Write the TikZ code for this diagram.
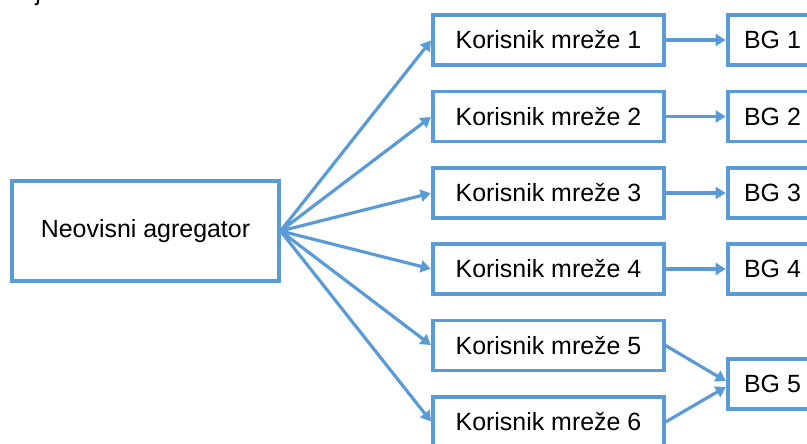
\documentclass[tikz,border=0pt]{standalone}
\usepackage{fontspec}
\setmainfont{Liberation Sans}
\usetikzlibrary{arrows.meta}
\definecolor{lineblue}{HTML}{5B9BD5}
\begin{document}
\begin{tikzpicture}[x=0.75pt,y=-0.75pt,
  box/.style={draw=lineblue, line width=2.3pt, fill=white, inner sep=0pt,
    font=\fontsize{18.7}{22}\selectfont, text=black},
  kbox/.style={box, minimum width=173.25pt, minimum height=37.5pt},
  bgbox/.style={box, minimum width=66.75pt, minimum height=37.5pt},
  conn/.style={draw=lineblue, line width=2.4pt, -{Triangle[length=7.5pt,width=9pt]}, shorten >=0.6pt}]
\useasboundingbox (0,0) rectangle (807,443);
\clip (0,0) rectangle (807,443);
\node[anchor=base west, inner sep=0pt, font=\fontsize{18.7}{22}\selectfont] (jfrag) at (35,0) {j};
\node[box, minimum width=200.25pt, minimum height=75pt] (agg) at (145.5,231) {Neovisni agregator};
\node[kbox] (k1) at (548.5,40) {Korisnik mreže 1};
\node[kbox] (k2) at (548.5,116.5) {Korisnik mreže 2};
\node[kbox] (k3) at (548.5,193) {Korisnik mreže 3};
\node[kbox] (k4) at (548.5,269) {Korisnik mreže 4};
\node[kbox] (k5) at (548.5,345.5) {Korisnik mreže 5};
\node[kbox] (k6) at (548.5,422) {Korisnik mreže 6};
\node[bgbox] (bg1) at (772.5,40) {BG 1};
\node[bgbox] (bg2) at (772.5,116.5) {BG 2};
\node[bgbox] (bg3) at (772.5,193) {BG 3};
\node[bgbox] (bg4) at (772.5,269) {BG 4};
\node[bgbox] (bg5) at (772.5,384) {BG 5};
\foreach \k in {k1,k2,k3,k4,k5,k6}
  \draw[conn] (agg.east) -- (\k.west);
\draw[conn] (k1) -- (bg1);
\draw[conn] (k2) -- (bg2);
\draw[conn] (k3) -- (bg3);
\draw[conn] (k4) -- (bg4);
\draw[conn] (k5.east) -- ([yshift=1.9pt]bg5.west);
\draw[conn] (k6.east) -- ([yshift=-1.9pt]bg5.west);
\end{tikzpicture}
\end{document}
